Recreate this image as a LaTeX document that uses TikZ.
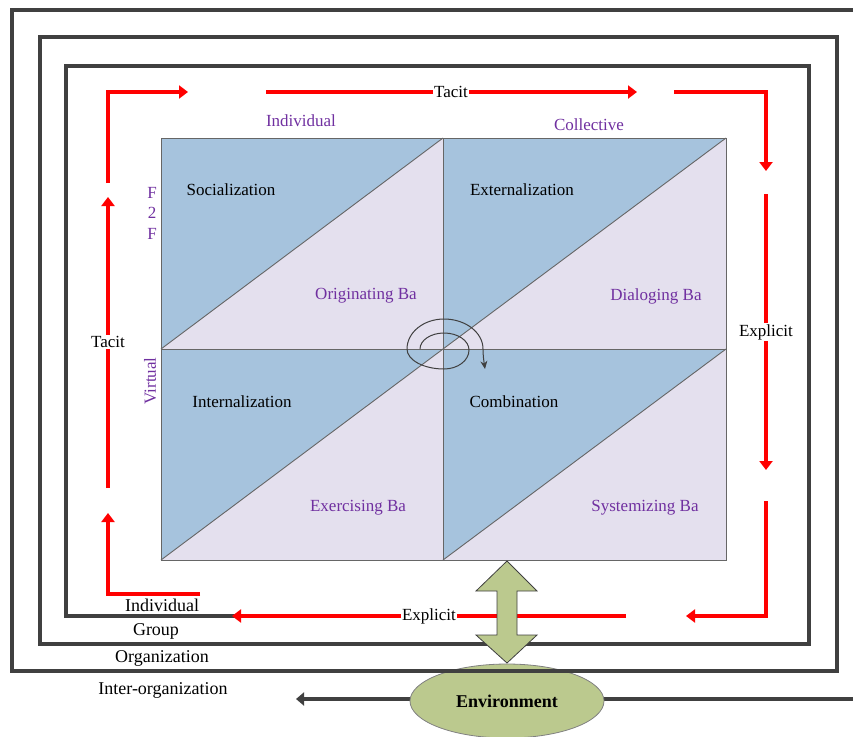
\documentclass[tikz,border=0pt]{standalone}
\usepackage{fontspec}
\setmainfont{Liberation Serif}
\usetikzlibrary{arrows.meta,shapes.geometric}
\definecolor{framegray}{HTML}{404040}
\definecolor{bapurple}{HTML}{7030A0}
\definecolor{quadblue}{HTML}{A6C3DD}
\definecolor{quadlav}{HTML}{E4E0EE}
\definecolor{envgreen}{HTML}{BBC98E}
\tikzset{
  flowline/.style={draw=red, line width=3.5pt, line join=miter},
  flow/.style={flowline, -{Triangle[length=9pt,width=13pt]}},
  levelframe/.style={draw=framegray, line width=3.5pt, line join=miter},
  flowlabel/.style={fill=white, inner sep=1.5pt, font=\fontsize{17}{20}\selectfont},
  modelabel/.style={font=\fontsize{17}{20}\selectfont, text=black},
  balabel/.style={font=\fontsize{17}{20}\selectfont, text=bapurple},
  levellabel/.style={font=\fontsize{18}{21}\selectfont, text=black},
  cell/.style={draw=framegray!80, line width=0.9pt},
}
\newcommand{\kquad}[4]{%
  \fill[quadlav] (#1,#2) rectangle (#3,#4);
  \fill[quadblue] (#1,#2) -- (#3,#2) -- (#1,#4) -- cycle;
  \draw[cell] (#1,#4) -- (#3,#2);
  \draw[cell] (#1,#2) rectangle (#3,#4);
}
\begin{document}
\begin{tikzpicture}[x=1pt, y=-1pt]
\useasboundingbox (0,0) rectangle (853,736);

% ---- the four knowledge-conversion quadrants
\kquad{161}{138}{443}{349}
\kquad{443}{138}{726}{349}
\kquad{161}{349}{443}{560}
\kquad{443}{349}{726}{560}

% ---- spiral at the centre of the grid
\draw[framegray, line width=1pt, -{Stealth[length=8pt,width=7pt]}]
  (420,349) .. controls (420,340.2) and (430.8,333) .. (444,333)
  .. controls (457.8,333) and (469,340.6) .. (469,350)
  .. controls (469,360.5) and (457.8,369) .. (444,369)
  .. controls (423.6,369) and (407,360) .. (407,349)
  .. controls (407,332.4) and (423.6,319) .. (444,319)
  .. controls (465.5,319) and (483,332.4) .. (483,349)
  .. controls (483,356) and (484,362) .. (485,369);

% ---- quadrant texts
\node[modelabel] (soc) at (231,190) {Socialization};
\node[modelabel] (ext) at (522,190) {Externalization};
\node[modelabel] (int) at (242,402) {Internalization};
\node[modelabel] (com) at (514,402) {Combination};
\node[balabel] (oba) at (366,296) {Originating Ba};
\node[balabel] (dba) at (656,296) {Dialoging Ba};
\node[balabel] (eba) at (358,508) {Exercising Ba};
\node[balabel] (sba) at (645,508) {Systemizing Ba};
\node[balabel] (indiv) at (301,121) {Individual};
\node[balabel] (coll) at (589,125) {Collective};
\node[balabel, align=center, font=\fontsize{17}{20.5}\selectfont] (f2f) at (152,213) {F\\2\\F};
\node[balabel, rotate=90] (virt) at (150,381) {Virtual};

% ---- line from the environment
\coordinate (envR) at (853,699);
\coordinate (envL) at (296,699);
\draw[framegray, line width=3.5pt, -{Triangle[length=8pt,width=13pt]}] (envR) -- (envL);
\node[ellipse, draw=gray, line width=0.8pt, fill=envgreen, minimum width=194pt,
      minimum height=74pt, inner sep=0pt, font=\fontsize{18}{21}\selectfont\bfseries]
      (env) at (507,701) {Environment};

% ---- nested levels, drawn as one spiral
\coordinate (s0) at (853,10);
\coordinate (s1) at (12,10);
\coordinate (s2) at (12,671);
\coordinate (s3) at (837,671);
\coordinate (s4) at (837,37);
\coordinate (s5) at (40,37);
\coordinate (s6) at (40,644);
\coordinate (s7) at (809,644);
\coordinate (s8) at (809,66);
\coordinate (s9) at (66,66);
\coordinate (s10) at (66,616);
\coordinate (s11) at (238,616);
\draw[levelframe] (s0) -- (s1) -- (s2) -- (s3) -- (s4) -- (s5) -- (s6)
  -- (s7) -- (s8) -- (s9) -- (s10) -- (s11);

\node[levellabel] (lvInd) at (162,605) {Individual};
\node[levellabel] (lvGrp) at (156,631) {Group};
\node[levellabel] (lvOrg) at (162,658) {Organization};
\node[levellabel] (lvInter) at (163,690) {Inter-organization};

% ---- red knowledge flows
\coordinate (a1) at (108,183);
\coordinate (a2) at (108,92);
\coordinate (a3) at (188,92);
\draw[flow] (a1) -- (a2) -- (a3);

\coordinate (b1) at (266,92);
\coordinate (b2) at (637,92);
\draw[flow] (b1) -- (b2);
\node[flowlabel] (tacitTop) at (451,92) {Tacit};

\coordinate (c1) at (674,92);
\coordinate (c2) at (766,92);
\coordinate (c3) at (766,171);
\draw[flow] (c1) -- (c2) -- (c3);

\coordinate (d1) at (766,194);
\coordinate (d2) at (766,470);
\draw[flow] (d1) -- (d2);
\node[flowlabel] (explRight) at (766,332) {Explicit};

\coordinate (e1) at (766,501);
\coordinate (e2) at (766,616);
\coordinate (e3) at (686,616);
\draw[flow] (e1) -- (e2) -- (e3);

\coordinate (f1) at (626,616);
\coordinate (f2) at (232,616);
\draw[flow] (f1) -- (f2);
\node[flowlabel] (explBot) at (429,616) {Explicit};

\coordinate (g1) at (200,594);
\coordinate (g2) at (108,594);
\coordinate (g3) at (108,513);
\draw[flow] (g1) -- (g2) -- (g3);

\coordinate (h1) at (108,488);
\coordinate (h2) at (108,197);
\draw[flow] (h1) -- (h2);
\node[flowlabel] (tacitLeft) at (108,342) {Tacit};

% ---- double arrow between the grid and the environment
\filldraw[fill=envgreen, draw=framegray, line width=0.8pt, line join=miter]
  (507,561) -- (537,591) -- (517,591) -- (517,635) -- (537,635) -- (507,663)
  -- (476,635) -- (497,635) -- (497,591) -- (476,591) -- cycle;

\end{tikzpicture}
\end{document}
